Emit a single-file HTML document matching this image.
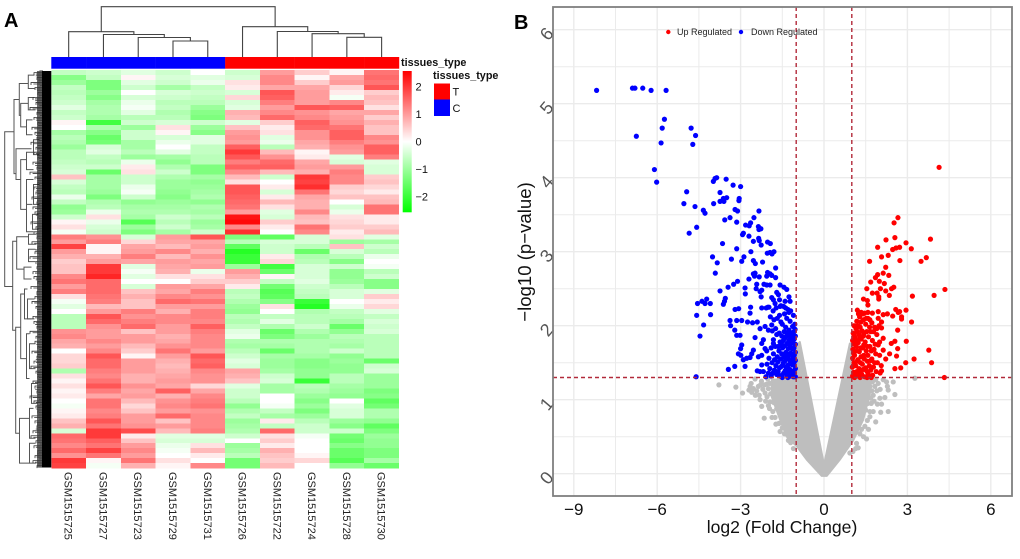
<!DOCTYPE html>
<html lang="en">
<head>
<meta charset="utf-8">
<title>Heatmap and volcano plot</title>
<style>
html,body{margin:0;padding:0;background:#fff;width:1020px;height:559px;overflow:hidden}
svg{display:block;font-family:"Liberation Sans",Arial,sans-serif}
</style>
</head>
<body>
<svg id="fig" xmlns="http://www.w3.org/2000/svg" width="1020" height="559" viewBox="0 0 1020 559">
  <defs>
    <linearGradient id="cbar" x1="0" y1="0" x2="0" y2="1">
      <stop offset="0" stop-color="#ff0000"/>
      <stop offset="0.5" stop-color="#ffffff"/>
      <stop offset="1" stop-color="#00ff00"/>
    </linearGradient>
  </defs>
  <text x="4" y="27" font-size="20" font-weight="bold" fill="#000">A</text>
  <text x="514" y="29" font-size="20" font-weight="bold" fill="#000">B</text>

  <g id="heatPanel"></g>
  <rect x="402.7" y="71" width="9" height="141.3" fill="url(#cbar)"/>
  <text x="401" y="66" font-size="10.8" font-weight="bold" fill="#111">tissues_type</text>
  <text x="433" y="79" font-size="10.8" font-weight="bold" fill="#111">tissues_type</text>
  <rect x="434" y="83.5" width="16" height="16" fill="#ff0000"/>
  <rect x="434" y="99.5" width="16" height="16.5" fill="#0000ff"/>
  <text x="452.5" y="95.5" font-size="11" fill="#111">T</text>
  <text x="452.5" y="112" font-size="11" fill="#111">C</text>

  <rect x="553" y="7" width="459" height="489" fill="#ffffff"/>
  <g id="volcano"></g>
  <rect x="553" y="7" width="459" height="489" fill="none" stroke="#7f7f7f" stroke-width="1.8"/>
  <circle cx="668.3" cy="32" r="2.2" fill="#ff0000"/>
  <text x="677" y="35" font-size="9" fill="#222">Up Regulated</text>
  <circle cx="741" cy="32" r="2.2" fill="#0000ff"/>
  <text x="751" y="35" font-size="9" fill="#222">Down Regulated</text>
  <text x="782" y="533" font-size="17.6" text-anchor="middle" fill="#111">log2 (Fold Change)</text>
  <text x="0" y="0" transform="translate(531,252) rotate(-90)" font-size="18.6" text-anchor="middle" fill="#111">−log10 (p−value)</text>
</svg>
<script>
const NS = 'http://www.w3.org/2000/svg';
/* ---------- heatmap data ---------- */
const sampleNames = ['GSM1515725','GSM1515727','GSM1515723','GSM1515729','GSM1515731','GSM1515726','GSM1515722','GSM1515724','GSM1515728','GSM1515730'];
const sampleGroups = ['C','C','C','C','C','T','T','T','T','T'];
const heatmapRows = [
[-0.6,-0.5,-0.3,-0.5,0.0,-0.5,1.0,0.5,0.1,1.4],
[-1.2,-0.6,0.1,-0.4,-0.3,-0.4,1.2,0.1,0.9,1.5],
[-1.0,-1.3,-0.3,-0.5,-0.2,0.3,1.2,0.5,1.0,1.4],
[-0.6,-1.3,-0.5,-0.9,-0.6,0.2,0.9,0.9,0.4,1.7],
[-0.7,-1.0,0.0,-0.4,-0.5,-0.4,1.7,1.0,0.2,0.5],
[-0.6,-1.2,-0.4,-0.5,-0.6,0.4,1.6,1.0,-0.1,0.7],
[-0.5,-0.9,-0.2,-0.7,-0.7,-0.4,1.3,1.0,1.2,0.6],
[-0.3,-0.8,-0.1,-0.6,-1.0,-0.3,1.0,1.7,1.6,0.3],
[-0.6,-0.8,-0.3,-0.8,-1.2,0.8,1.2,1.1,0.9,0.9],
[-0.5,-0.9,-0.7,-0.7,-1.3,0.7,1.5,1.2,1.0,0.5],
[0.1,-1.9,-0.5,-0.4,-0.5,-0.3,0.5,1.6,1.1,0.8],
[0.0,-0.8,-1.0,0.3,-1.0,0.6,0.2,1.5,1.4,0.6],
[-0.9,-1.2,-0.5,0.1,-1.2,1.0,0.3,1.1,1.6,0.6],
[-0.7,-1.5,-0.5,-0.4,-0.3,1.1,-0.3,1.1,1.6,1.2],
[-0.8,-1.4,-0.9,-0.2,-0.3,1.0,-0.2,0.9,1.3,1.1],
[-1.0,-0.4,-0.9,0.0,-0.6,1.6,-0.7,0.8,1.1,1.6],
[-0.7,-0.3,-0.7,-0.3,-0.6,2.0,0.7,0.1,1.0,1.6],
[-0.7,-0.6,-1.0,-0.9,-0.7,1.7,1.1,0.2,-0.3,1.3],
[-0.6,-0.7,-0.2,-1.1,-0.7,1.3,1.5,0.9,-0.4,-0.3],
[-0.5,-0.5,0.2,-0.8,-1.3,1.6,1.6,1.0,1.0,-0.4],
[-0.4,-1.5,0.3,-0.5,-1.3,1.2,0.7,0.8,1.3,-0.4],
[0.6,-0.9,-0.5,-0.8,-0.9,0.7,-0.5,2.0,1.2,0.5],
[-0.4,-0.9,-0.5,-1.0,-1.1,0.3,0.0,1.9,1.2,0.6],
[-0.6,-0.9,-0.2,-1.0,-1.0,1.7,0.2,2.1,0.5,0.4],
[-0.7,-1.0,-0.1,-1.1,-0.9,1.7,-0.4,1.4,0.4,0.2],
[-0.2,-1.3,-0.5,-1.2,-0.8,1.6,0.2,0.9,0.6,0.6],
[-0.6,-0.8,-1.1,-1.0,-1.1,1.5,0.7,0.8,0.0,0.7],
[-1.1,-0.7,-0.9,-0.9,-0.8,1.4,0.3,0.8,-0.4,1.4],
[-1.0,-0.2,-0.8,-0.8,-0.9,1.0,-0.3,1.2,-0.2,1.4],
[-0.5,0.3,-0.9,-0.5,-0.7,2.4,-0.4,0.7,0.3,0.2],
[0.1,-0.2,-1.7,-0.7,-1.0,2.5,0.5,0.6,0.4,0.2],
[0.3,-0.4,-1.0,-0.5,-0.9,1.2,0.2,1.4,0.5,0.5],
[-0.1,-0.5,-1.3,-0.9,-0.5,2.1,0.0,1.2,0.2,0.7],
[1.3,1.1,-0.4,1.0,1.7,-1.3,-1.6,-0.4,0.3,-0.3],
[1.0,1.3,0.4,0.9,0.9,-0.7,-0.4,-0.4,-1.0,-0.9],
[1.9,0.1,0.9,0.7,1.0,-1.6,-0.5,-0.7,0.6,-0.5],
[1.0,0.1,1.0,1.2,0.8,-2.2,-0.5,-1.5,-0.4,-0.7],
[0.8,0.8,1.3,0.7,1.1,-2.0,0.2,-0.8,-0.7,-0.2],
[0.5,1.0,0.9,1.0,0.9,-2.0,0.4,-0.7,-1.2,0.0],
[0.6,2.0,-0.3,0.9,1.0,-1.0,-1.9,-0.4,-0.5,-0.1],
[0.6,2.0,-0.1,0.8,-0.2,1.0,-1.5,-0.4,-1.1,-0.7],
[1.2,2.2,-0.3,0.3,0.3,0.8,0.1,-0.4,-1.1,-0.5],
[1.4,1.5,0.0,0.0,0.5,0.5,-0.6,-0.3,-1.0,-1.2],
[1.0,1.5,-0.4,1.0,0.9,0.2,-1.4,-0.5,-0.7,-1.2],
[1.3,1.5,0.6,0.9,1.3,-0.7,-1.7,-0.6,-0.4,-0.3],
[0.3,1.4,0.8,1.2,1.1,-0.6,-1.6,-0.7,-0.4,0.5],
[-0.1,1.3,0.6,1.5,1.4,-0.8,-1.2,-2.0,0.0,0.2],
[-0.3,0.7,0.6,1.0,1.0,-1.0,0.3,-2.2,-0.2,0.4],
[0.0,1.0,1.3,0.8,1.3,-1.1,0.0,-0.8,-0.6,-0.3],
[-0.7,1.7,1.1,1.2,1.3,-0.7,-0.6,-0.7,-0.7,-0.6],
[-0.7,1.5,1.3,1.2,1.2,-0.8,-0.3,-0.7,-0.9,-0.4],
[-0.7,1.1,1.5,1.0,1.6,-0.6,-0.8,-0.5,-1.5,-0.5],
[1.1,1.0,0.6,1.0,1.3,-0.3,-1.5,-0.8,-1.1,-0.4],
[1.2,1.0,1.0,0.8,1.2,-0.2,-1.3,-1.0,-0.7,-0.7],
[0.9,1.2,1.0,0.9,1.2,-0.8,-0.8,-0.8,-0.8,-0.7],
[0.8,1.0,0.7,1.1,1.2,-0.9,-0.9,-0.8,-0.9,-0.7],
[0.0,1.2,0.5,1.4,1.0,-0.7,-1.5,-0.8,-0.5,-0.7],
[0.4,1.7,0.1,1.0,1.7,-0.5,-0.9,-0.9,-1.1,-0.7],
[0.4,1.5,1.0,0.8,1.5,-0.3,-1.0,-1.2,-1.0,-1.5],
[0.5,1.5,1.0,0.7,1.6,-0.4,-1.0,-1.2,-1.1,-0.5],
[-0.8,1.3,1.0,0.8,1.2,0.9,-0.9,-1.1,-1.1,-0.4],
[0.3,1.2,0.8,0.9,1.1,0.8,-0.5,-1.1,-0.7,-1.0],
[0.1,1.4,0.8,1.0,1.1,0.6,-0.4,-2.0,-0.7,-1.0],
[0.3,1.7,1.1,0.9,0.4,-0.3,-0.9,-0.7,-0.9,-1.0],
[0.1,1.3,0.9,1.6,0.9,-0.5,-0.9,-0.8,-1.0,-1.3],
[0.2,0.9,1.0,0.8,1.2,-0.5,0.0,-1.0,-1.1,-1.2],
[0.0,1.4,0.7,1.1,1.3,-0.7,0.0,-1.2,0.0,-1.6],
[-0.1,1.4,0.4,1.2,1.4,-1.1,-0.1,-1.0,-0.3,-1.4],
[0.1,1.2,0.6,1.0,1.1,-0.8,-0.6,-1.3,-0.4,-0.8],
[0.2,1.3,1.0,1.5,1.2,-0.6,-0.9,-1.0,-0.4,-0.8],
[0.6,1.7,1.0,0.6,1.2,-1.0,0.2,-0.7,-1.0,-1.1],
[0.8,1.4,1.1,1.0,1.2,-0.9,-0.6,-0.5,-1.2,-1.6],
[-0.4,2.0,1.8,0.7,1.3,-0.8,1.5,-0.5,-0.5,-1.3],
[1.5,2.0,0.2,-0.3,-0.3,-0.5,0.3,-0.1,-1.4,-1.0],
[1.4,1.6,0.6,-0.4,-0.4,0.0,0.5,0.0,-1.5,-1.1],
[1.2,1.4,1.0,-0.2,0.3,-1.0,0.2,0.0,-1.2,-1.1],
[1.5,1.9,1.2,-0.1,0.7,-0.9,0.8,0.0,-1.5,-1.3],
[1.1,1.4,1.0,0.0,0.2,-0.7,0.6,0.1,-1.5,-1.3],
[2.0,0.1,1.4,0.3,0.0,-1.4,0.5,0.4,-1.7,-0.9],
[1.9,-0.1,0.8,0.1,1.2,-1.4,0.7,0.0,-1.1,-1.5]
];
const colorTicks = [2,1,0,-1,-2];
/* column dendrogram merges: [height, left node, right node]; node >= 0 is a column, node < 0 is an earlier merge */
const columnMerges = [
[16,3,4],[19.5,2,-1],[22.5,1,-2],[25.3,0,-3],
[19.7,8,9],[23.3,7,-5],[25.5,6,-6],[30.3,5,-7],
[50.3,-4,-8]
];
/* row dendrogram brackets: [height, row A, row B, child height A, child height B] */
const rowBrackets = [
[46.8,12.4,43.5,37.5,38.8],[37.5,5.9,20.8,32.2,35.5],[32.2,2.7,9.1,23.2,30.8],[23.2,1,3.7,17,17],[30.8,6.7,11.4,23.2,25],
[23.2,5.5,8,17,16],[25,10,13,19,19],[35.5,15.8,22,20,30.8],[30.8,18,28,25,25],[25,16.5,20,18,18],[25,22,31,18,25],
[25,27,32.5,19,18],[38.8,34.4,52.3,34.8,35.8],[34.8,33.5,40,23,27.5],[23,33,35,15,15],[23,36,38.5,16,16],[27.5,39.6,42,20,20],
[35.8,51.7,73,30.8,32],[30.8,45,58,27,25],[27,44,50,24,20],[25,53,62,22,22],[32,70,79,22,22],[24,46,50,17,17],[22,68,74,18,16],
[22,75,79,16,15],[22,55,60,16,16],[20,63,67,14,14],[18,14,17,12,12],[18,23,27,12,12],[19,29,32,13,13]
];
const rowLeafLengths = [9,6,12,8,5,10,7,13,6,9,5,11,8,6,12,7,9,5,10,6,13,8,5,9,7,11,6,10,8,5,12,7,9,6,11,5,8,13,7,6,10,9,5,12,6,8,11,7,5,10,9,6,13,7,8,5,11,6,9,12,7,5,10,8,6,13,9,7,5,11,8,6,10,12,7,9,5,8,10,6];

/* ---------- volcano data: [log2 fold change, -log10 p] ---------- */
const xTickValues = [-9,-6,-3,0,3,6];
const yTickValues = [0,1,2,3,4,5,6];
const fcCutoffs = [-1,1];
const pCutoff = 1.3;
const downPoints = [
[-8.18,5.18],[-6.89,5.21],[-6.8,5.21],[-6.52,5.21],[-6.22,5.18],[-5.68,5.18],[-5.74,4.79],[-5.82,4.67],[-6.75,4.56],[-5.86,4.47],[-4.78,4.67],[-4.62,4.57],[-4.72,4.45],[-6.1,4.11],[-6.02,3.94],[-4.94,3.81],[-3.98,3.95],[-3.92,3.99],[-3.86,4.0],[-3.52,3.98],[-3.27,3.9],[-3.0,3.88],[-3.74,3.8],[-3.62,3.72],[-3.5,3.73],[-3.05,3.72],
[-5.04,3.65],[-4.64,3.61],[-4.34,3.56],[-4.28,3.52],[-3.97,3.65],[-3.74,3.68],[-3.6,3.68],[-3.06,3.69],[-3.2,3.57],[-3.11,3.55],[-2.34,3.55],[-2.52,3.46],[-3.38,3.46],[-3.57,3.43],[-3.14,3.4],[-2.64,3.39],[-2.82,3.36],[-2.69,3.35],[-2.36,3.34],[-2.27,3.31],[-2.34,3.3],[-4.58,3.33],[-4.85,3.25],[-2.9,3.25],[-2.93,3.23],[-2.7,3.21],[-2.35,3.18],[-2.33,3.15],[-2.54,3.14],[-3.65,3.11],[-2.03,3.13],[-1.93,3.11],[-2.26,3.09],[-3.14,3.04],[-2.63,3.0],[-2.04,2.98],[-1.94,2.99],[-1.8,3.0],[-1.87,2.97],[-4.01,2.93],[-3.84,2.85],[-3.33,2.9],[-2.88,2.93],[-2.96,2.87],[-2.54,2.88],[-2.47,2.84],[-2.21,2.86],[-1.74,2.78],[-3.91,2.71],[-2.54,2.7],[-2.48,2.71],[-2.5,2.67],[-2.03,2.72],[-1.94,2.7],[-2.06,2.67],[-2.33,2.66],[-2.7,2.63],[-1.88,2.68],[-1.74,2.65],[-3.11,2.6],[-3.25,2.56],[-3.45,2.52],[-3.74,2.47],[-2.42,2.56],[-2.16,2.56],[-2.06,2.55],[-1.94,2.55],[-1.58,2.55],[-1.44,2.52],[-1.34,2.49],[-2.84,2.51],[-2.44,2.5],[-2.24,2.48],[-2.3,2.46],[-1.7,2.45],[-1.64,2.42],[-1.26,2.39],[-2.83,2.43],[-2.26,2.39],[-1.88,2.38],[-1.82,2.35],[-1.76,2.3],[-1.22,2.33],[-3.55,2.37],[-3.58,2.33],[-3.62,2.29],[-4.22,2.36],[-4.39,2.33],[-4.55,2.3],[-4.28,2.3],[-4.09,2.3],[-3.2,2.22],[-3.07,2.23],[-2.64,2.25],[-2.24,2.24],[-2.08,2.24],[-2.02,2.25],[-1.58,2.26],[-1.38,2.24],[-2.66,2.17],[-1.26,2.18],[-4.58,2.14],[-4.08,2.15],[-4.33,2.01],[-4.46,1.86],
[-4.6,1.31],[-3.44,1.41],[-3.21,1.45],[-2.84,1.45],[-3.08,1.62],[-2.99,1.6],[-2.78,1.56],[-2.9,1.54],[-3.0,1.69],[-2.96,1.74],[-2.6,1.62],[-2.54,1.67],[-2.66,1.57],[-2.36,1.58],[-2.24,1.6],[-2.3,1.38],[-2.18,1.38],[-2.24,1.47],[-2.4,1.39],[-2.09,1.31],[-2.12,1.69],[-2.06,1.66],[-2.48,1.84],[-2.18,1.81],[-2.24,1.76],[-3.02,1.87],[-3.14,1.87],[-3.21,1.94],[-3.38,2.07],[-3.36,2.0],[-3.14,2.07],[-2.96,2.07],[-2.75,2.05],[-2.57,2.04],[-2.4,2.05],[-2.3,1.96],[-2.12,1.99],[-2.0,1.94],[-1.88,2.01],[-1.82,1.81],[-1.82,1.76],
[-1.03,1.31],[-1.03,1.42],[-1.03,1.53],[-1.03,1.64],[-1.03,1.75],[-1.03,1.86],[-1.04,1.95],[-1.05,2.02],[-1.12,1.34],[-1.14,1.47],[-1.11,1.58],[-1.15,1.69],[-1.12,1.8],[-1.16,1.9],[-1.13,1.99],[-1.22,1.32],[-1.24,1.41],[-1.21,1.52],[-1.25,1.62],[-1.23,1.73],[-1.2,1.84],[-1.26,1.94],[-1.22,2.06],[-1.33,1.33],[-1.36,1.44],[-1.31,1.55],[-1.37,1.64],[-1.32,1.76],[-1.35,1.86],[-1.38,1.98],[-1.34,2.1],[-1.45,1.36],[-1.47,1.49],[-1.44,1.58],[-1.49,1.7],[-1.46,1.8],[-1.43,1.92],[-1.5,2.02],[-1.42,2.16],[-1.58,1.32],[-1.6,1.43],[-1.56,1.55],[-1.62,1.66],[-1.58,1.78],[-1.61,1.9],[-1.55,2.05],[-1.6,2.14],[-1.7,1.34],[-1.73,1.46],[-1.68,1.58],[-1.75,1.72],[-1.7,1.88],[-1.74,1.96],[-1.68,2.1],[-1.72,2.24],[-1.84,1.36],[-1.87,1.5],[-1.82,1.62],[-1.9,1.7],[-1.86,1.93],[-1.8,2.08],[-1.83,2.2],[-1.95,1.42],[-1.98,1.56],[-2.0,1.36],[-1.93,2.12],[-1.98,2.25],[-2.05,1.48],[-1.55,2.27],[-1.45,2.26],[-1.3,2.22],[-1.2,2.2],[-1.1,2.14],[-1.4,2.33],[-1.6,2.35],
[-1.06,1.36],[-1.08,1.48],[-1.07,1.6],[-1.08,1.7],[-1.07,1.82],[-1.08,1.92],[-1.17,1.39],[-1.18,1.53],[-1.19,1.63],[-1.18,1.76],[-1.19,1.87],[-1.28,1.36],[-1.29,1.47],[-1.28,1.58],[-1.29,1.69],[-1.27,1.8],[-1.31,1.9],[-1.4,1.39],[-1.41,1.52],[-1.4,1.62],[-1.42,1.73],[-1.4,1.84],[-1.52,1.33],[-1.53,1.45],[-1.52,1.62],[-1.53,1.75],[-1.52,1.86],[-1.65,1.38],[-1.66,1.51],[-1.65,1.72],[-1.78,1.4],[-1.78,1.54],[-1.1,1.31],[-1.3,1.3],[-1.5,1.3],[-1.9,1.32]
];
const upPoints = [
[4.14,4.14],[2.66,3.46],[2.52,3.39],[2.23,3.16],[2.55,3.19],[3.83,3.17],[2.95,3.12],[1.93,3.06],[2.47,3.03],[2.59,3.05],[2.72,3.06],[3.14,3.04],[2.07,2.93],[2.31,2.95],[3.68,2.92],[3.49,2.87],[1.64,2.87],[2.73,2.88],[2.22,2.79],[2.13,2.71],[1.93,2.69],[2.33,2.68],[1.85,2.65],[1.68,2.59],[1.99,2.6],[2.17,2.57],[1.54,2.5],[2.03,2.5],[2.43,2.5],[2.51,2.52],[4.35,2.49],[1.74,2.44],[1.91,2.44],[2.22,2.47],[2.35,2.41],[3.96,2.41],[3.18,2.4],[1.97,2.39],[1.97,2.36],[1.42,2.36],[1.56,2.34],[1.58,2.28],[1.2,2.21],[2.95,2.21],[2.58,2.22],[1.95,2.19],[2.67,2.18],[2.72,2.19],[1.58,2.18],[1.74,2.17],[2.13,2.15],[2.28,2.16],[2.47,2.13],[2.79,2.12],[2.79,2.09],[3.15,2.05],[2.65,1.94],[2.96,1.79],[2.55,1.79],[2.42,1.76],[2.65,1.69],[3.77,1.67],[2.36,1.62],[2.61,1.59],[3.24,1.55],[3.87,1.5],[2.94,1.5],[2.76,1.43],[2.55,1.42],[4.33,1.3],[2.07,1.39],[2.22,1.55],[2.13,1.67],[2.0,1.78],[2.13,1.83],[2.07,1.97],[1.9,1.96],[2.07,2.05],[1.95,2.1],
[1.03,1.32],[1.02,1.44],[1.03,1.56],[1.04,1.68],[1.03,1.8],[1.05,1.9],[1.08,2.0],[1.13,1.33],[1.14,1.46],[1.1,1.6],[1.16,1.72],[1.12,1.84],[1.15,1.96],[1.18,2.06],[1.23,1.32],[1.26,1.42],[1.22,1.54],[1.27,1.65],[1.23,1.77],[1.26,1.88],[1.22,2.0],[1.28,2.12],[1.35,1.35],[1.38,1.48],[1.33,1.58],[1.39,1.7],[1.34,1.82],[1.37,1.93],[1.33,2.05],[1.4,2.16],[1.47,1.31],[1.5,1.43],[1.45,1.55],[1.52,1.66],[1.48,1.78],[1.44,1.9],[1.5,2.02],[1.46,2.17],[1.6,1.34],[1.63,1.46],[1.58,1.6],[1.65,1.72],[1.6,1.85],[1.64,1.98],[1.58,2.1],[1.75,1.33],[1.78,1.44],[1.72,1.55],[1.8,1.68],[1.74,1.8],[1.78,1.92],[1.72,2.04],[1.88,1.38],[1.92,1.5],[1.86,1.62],[1.95,1.74],[1.9,1.88],[1.98,2.0],[2.02,1.36],[2.06,1.46],[2.0,1.6],
[1.07,1.37],[1.08,1.5],[1.06,1.63],[1.09,1.75],[1.08,1.87],[1.18,1.38],[1.19,1.52],[1.2,1.66],[1.18,1.8],[1.2,1.92],[1.3,1.37],[1.31,1.5],[1.32,1.7],[1.3,1.84],[1.3,1.98],[1.42,1.41],[1.43,1.6],[1.43,1.74],[1.42,1.86],[1.42,2.08],[1.55,1.38],[1.56,1.52],[1.56,1.72],[1.54,1.92],[1.52,2.1],[1.68,1.4],[1.68,1.53],[1.7,1.66],[1.68,1.92],[1.65,2.08],[1.82,1.5],[1.84,1.75],[1.82,1.98],[1.24,2.16],[1.34,2.18],[1.1,1.3],[1.3,1.3],[1.55,1.3],[1.7,1.3]
];
const notSigPoints = [
[-3.78,1.2],[-3.17,1.17],[-2.93,1.09],[-2.48,1.28],[-2.66,1.18],[-2.54,1.15],[-2.42,1.12],[-2.33,1.06],[-2.24,0.91],[-2.15,0.75],[-1.87,0.76],[-1.73,0.67],[-1.58,0.57],[-1.28,0.45],[-2.28,1.2],[-2.06,1.21],[-2.0,1.15],[-2.12,1.09],[-1.94,0.97],[-1.7,0.88],[-1.16,0.59],[-2.7,1.13],[-2.6,1.1],[-2.3,1.0],[-2.25,1.25],[-2.1,0.98],[-2.02,1.28],[-1.96,0.88],[-1.84,0.84],[-1.76,0.76],
[-2.62,1.22],[-2.47,1.06],[-2.36,1.18],[-2.2,1.14],[-2.14,1.2],[-2.05,1.04],[-2.0,0.92],[-1.95,1.22],[-1.92,1.08],[-1.62,0.68],[-1.5,0.62],[-1.42,0.54],[-1.2,0.42],[-1.1,0.34],[-1.66,0.92],[-1.8,0.96],
[3.27,1.29],[2.55,1.07],[2.31,1.13],[2.25,1.24],[2.49,1.24],[2.19,1.03],[2.01,1.02],[1.77,1.06],[2.31,0.84],[2.07,0.94],[1.92,0.94],[1.77,0.84],[1.65,0.84],[2.04,0.83],[1.86,0.7],[1.65,0.77],[1.53,0.47],[1.23,0.35],[1.17,0.41],[1.47,0.64],[1.29,0.54],[0.93,0.28],[1.83,1.18],[1.95,1.22],[1.65,1.18],[2.13,1.27],[1.8,0.98],[1.9,1.12],[1.7,0.95],[2.28,1.18],
[1.74,1.24],[1.86,1.27],[2.02,1.14],[1.68,1.02],[1.72,1.12],[1.58,0.95],[1.56,0.72],[1.42,0.5],[1.35,0.6],[1.14,0.34],[1.04,0.3],[1.6,0.6],[1.5,0.86]
];
const coreOutlineX = [-0.87,0,0.93,1.0,1.0,1.65,1.65,1.41,1.05,0.57,0.1,-0.08,-0.62,-0.98,-1.34,-1.58,-1.88,-1.88,-1.0,-1.0];
const coreOutlineY = [1.78,0.12,1.76,1.76,1.3,1.27,1.08,0.73,0.45,0.19,-0.03,-0.03,0.19,0.37,0.5,0.73,1.04,1.27,1.29,1.72];

/* ---------- helpers ---------- */
function mk(tag, parent){const e=document.createElementNS(NS,tag);parent.appendChild(e);return e;}
const heat=document.getElementById('heatPanel');
const vol=document.getElementById('volcano');
const heatLeft=51.3, heatTop=70.1, colW=34.77, rowH=398/heatmapRows.length;
function colX(c){return heatLeft+c*colW;}
function rowY(r){return heatTop+r*rowH;}
function heatColor(v){const t=Math.min(1,Math.abs(v)/2.57);const o=Math.round(255*(1-t));return v>=0?`rgb(255,${o},${o})`:`rgb(${o},255,${o})`;}
function dendY(h){return 57-h;}
function leftX(h){return 51.5-h;}
function sx(v){return 824+v*27.8;}
function sy(v){return 473.7-v*74;}

/* heatmap cells */
heatmapRows.forEach((row,r)=>{row.forEach((v,c)=>{
  const cell=mk('rect',heat);
  
  
  cell.setAttribute('x',colX(c));cell.setAttribute('y',rowY(r));
  cell.setAttribute('width',colW+0.2);cell.setAttribute('height',rowH+0.2);
  cell.setAttribute('fill',heatColor(v));cell.setAttribute('shape-rendering','crispEdges');
});});
/* annotation bar + sample labels */
sampleNames.forEach((name,c)=>{
  const bar=mk('rect',heat);
  
  
  bar.setAttribute('x',colX(c));bar.setAttribute('y',57);bar.setAttribute('width',colW+0.2);bar.setAttribute('height',11.7);
  bar.setAttribute('fill',sampleGroups[c]==='T'?'#ff0000':'#0000ff');
  const t=mk('text',heat);
  
  
  t.setAttribute('transform',`translate(${colX(c)+colW/2-4},472) rotate(90)`);
  t.setAttribute('font-size','11');t.setAttribute('fill','#222');t.textContent=name;
});
/* colour scale ticks */
colorTicks.forEach(v=>{
  const t=mk('text',heat);
  
  
  t.setAttribute('x',415.5);t.setAttribute('y',141.7-v*27.5+4);
  t.setAttribute('font-size','11');t.setAttribute('fill','#111');
  t.textContent=String(v).replace('-','−');
});
/* column dendrogram */
const nodeInfo=[];
function nodePos(n){return n>=0?{x:colX(n)+colW/2,h:0}:nodeInfo[-n-1];}
columnMerges.forEach(m=>{
  const a=nodePos(m[1]),b=nodePos(m[2]);
  const p=mk('path',heat);
  
  
  p.setAttribute('d',`M${a.x} ${dendY(a.h)}V${dendY(m[0])}H${b.x}V${dendY(b.h)}`);
  p.setAttribute('fill','none');p.setAttribute('stroke','#444');p.setAttribute('stroke-width','1.1');
  nodeInfo.push({x:(a.x+b.x)/2,h:m[0]});
});
/* row dendrogram */
rowBrackets.forEach(b=>{
  const p=mk('path',heat);
  
  
  p.setAttribute('d',`M${leftX(b[3])} ${rowY(b[1])}H${leftX(b[0])}V${rowY(b[2])}H${leftX(b[4])}`);
  p.setAttribute('fill','none');p.setAttribute('stroke','#555');p.setAttribute('stroke-width','1');
});
const fuzz=mk('rect',heat);


fuzz.setAttribute('x',37);fuzz.setAttribute('y',71);fuzz.setAttribute('width',5);fuzz.setAttribute('height',396.5);fuzz.setAttribute('fill','#000');fuzz.setAttribute('opacity','0.6');
rowLeafLengths.forEach((len,r)=>{
  const p=mk('path',heat);
  
  
  const nxt=rowLeafLengths[(r+1)%rowLeafLengths.length];
  p.setAttribute('d',`M43 ${rowY(r+0.5)}H${43-len}V${rowY(r+1)}M43 ${rowY(r+0.15)}H${43-nxt*0.6}M43 ${rowY(r+0.8)}H${43-len*0.8}`);
  p.setAttribute('fill','none');p.setAttribute('stroke','#333');p.setAttribute('stroke-width','0.8');
});
const band=mk('rect',heat);


band.setAttribute('x',42);band.setAttribute('y',71);band.setAttribute('width',9.3);band.setAttribute('height',396.5);band.setAttribute('fill','#000');

/* volcano grid */
function gridLine(x1,y1,x2,y2,w){
  const l=mk('line',vol);
  l.setAttribute('x1',x1);l.setAttribute('y1',y1);l.setAttribute('x2',x2);l.setAttribute('y2',y2);
  l.setAttribute('stroke','#ebebeb');l.setAttribute('stroke-width',w);
  return l;
}
xTickValues.forEach(v=>{
  const g=gridLine(sx(v),7,sx(v),496,1.4);
  
  
  const m=gridLine(sx(v+1.5),7,sx(v+1.5),496,1);
  
  
  const t=mk('text',vol);
  
  
  t.setAttribute('x',sx(v));t.setAttribute('y',515);t.setAttribute('font-size','17');t.setAttribute('text-anchor','middle');t.setAttribute('fill','#111');
  t.textContent=String(v).replace('-','−');
});
yTickValues.forEach(v=>{
  const g=gridLine(553,sy(v),1012,sy(v),1.4);
  
  
  if(v<6){
    const m=gridLine(553,sy(v+0.5),1012,sy(v+0.5),1);
    
    
  }
  const t=mk('text',vol);
  
  
  t.setAttribute('transform',`translate(546.7,${sy(v)+4.3}) rotate(-50)`);
  t.setAttribute('font-size','18');t.setAttribute('text-anchor','middle');t.setAttribute('dominant-baseline','central');t.setAttribute('fill','#555');
  t.textContent=v;
});
/* not significant core + points */
const core=mk('polygon',vol);


core.setAttribute('points',coreOutlineX.map((x,i)=>`${sx(x)},${sy(coreOutlineY[i])}`).join(' '));
core.setAttribute('fill','#bebebe');core.setAttribute('stroke','#bebebe');core.setAttribute('stroke-width','2');core.setAttribute('stroke-linejoin','round');
notSigPoints.forEach(p=>{
  const c=mk('circle',vol);
  
  
  c.setAttribute('cx',sx(p[0]));c.setAttribute('cy',sy(p[1]));c.setAttribute('r',2.6);c.setAttribute('fill','#bebebe');
});
downPoints.forEach(p=>{
  const c=mk('circle',vol);
  
  
  c.setAttribute('cx',sx(p[0]));c.setAttribute('cy',sy(p[1]));c.setAttribute('r',2.6);c.setAttribute('fill','#0000ff');
});
upPoints.forEach(p=>{
  const c=mk('circle',vol);
  
  
  c.setAttribute('cx',sx(p[0]));c.setAttribute('cy',sy(p[1]));c.setAttribute('r',2.6);c.setAttribute('fill','#ff0000');
});
/* cutoffs */
fcCutoffs.forEach(v=>{
  const l=mk('line',vol);
  
  
  l.setAttribute('x1',sx(v));l.setAttribute('x2',sx(v));l.setAttribute('y1',7);l.setAttribute('y2',496);
  l.setAttribute('stroke','#b22a3a');l.setAttribute('stroke-width','1.4');l.setAttribute('stroke-dasharray','4 3');
});
const pl=mk('line',vol);


pl.setAttribute('x1',553);pl.setAttribute('x2',1012);pl.setAttribute('y1',sy(pCutoff));pl.setAttribute('y2',sy(pCutoff));
pl.setAttribute('stroke','#b22a3a');pl.setAttribute('stroke-width','1.4');pl.setAttribute('stroke-dasharray','4 3');
</script>
</body>
</html>
